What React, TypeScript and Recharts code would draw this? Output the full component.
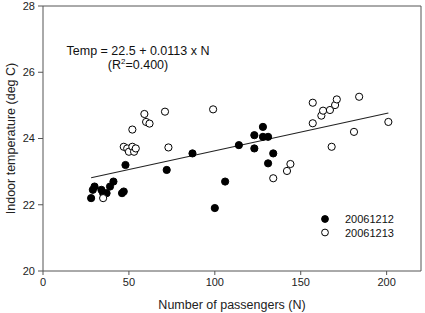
import React from "react";
import {
  ScatterChart,
  Scatter,
  XAxis,
  YAxis,
  ReferenceLine,
  Legend,
} from "recharts";

// passengers (N) and indoor temperature (deg C) per measurement day
const day1N = [28, 29, 30, 34, 35, 37, 39, 41, 46, 47, 48, 72, 87, 100, 106, 114, 123, 123, 128, 128, 131, 131, 134];
const day1T = [22.2, 22.45, 22.55, 22.45, 22.35, 22.35, 22.55, 22.7, 22.35, 22.4, 23.2, 23.05, 23.55, 21.9, 22.7, 23.8, 24.1, 23.7, 24.35, 24.05, 24.05, 23.25, 23.55];

const day2N = [35, 47, 49, 50, 52, 52, 53, 54, 59, 60, 62, 71, 73, 99, 134, 142, 144, 157, 157, 162, 163, 167, 168, 170, 171, 181, 184, 201];
const day2T = [22.2, 23.75, 23.7, 23.6, 23.75, 24.27, 23.6, 23.7, 24.74, 24.5, 24.45, 24.81, 23.73, 24.88, 22.8, 23.02, 23.23, 25.08, 24.46, 24.69, 24.84, 24.86, 23.75, 25.01, 25.18, 24.2, 25.26, 24.5];

const seriesNames = ["20061212", "20061213"];

// linear fit Temp = a + b * N
const INTERCEPT = 22.5;
const SLOPE = 0.0113;
const R2 = "0.400";

const X_MAX = 220;
const Y_MIN = 20;
const Y_MAX = 28;
const xTicks = [0, 50, 100, 150, 200];
const yTicks = [20, 22, 24, 26, 28];

const FONT = "'Liberation Sans', Arial, sans-serif";
const AXIS = "#555";

const day1 = day1N.map((n, i) => ({ n, t: day1T[i] }));
const day2 = day2N.map((n, i) => ({ n, t: day2T[i] }));

const allN = [...day1N, ...day2N];
const nMin = Math.min(...allN);
const nMax = Math.max(...allN);
const fitLine = [
  { x: nMin, y: INTERCEPT + SLOPE * nMin },
  { x: nMax, y: INTERCEPT + SLOPE * nMax },
];

const Dot = ({ cx, cy, filled }: { cx?: number; cy?: number; filled: boolean }) => (
  <circle
    cx={cx}
    cy={cy}
    r={3.6}
    fill={filled ? "#000" : "#fff"}
    stroke="#000"
    strokeWidth={1}
  />
);

const LegendBox = () => (
  <svg width={100} height={30}>
    {seriesNames.map((name, i) => (
      <g key={name} transform={`translate(0, ${i * 13.5})`}>
        <circle cx={7} cy={8} r={3.4} fill={i === 0 ? "#000" : "#fff"} stroke="#000" />
        <text x={27} y={12} fontSize={11} fill="#111" fontFamily={FONT}>
          {name}
        </text>
      </g>
    ))}
  </svg>
);

export default function App() {
  return (
    <div
      style={{
        position: "absolute",
        left: 0,
        top: 0,
        width: 425,
        height: 313,
        background: "#fff",
        fontFamily: FONT,
        overflow: "hidden",
      }}
    >
      <ScatterChart
        width={425}
        height={313}
        margin={{ top: 6, right: 4, bottom: 0, left: 0 }}
      >
        <XAxis
          type="number"
          dataKey="n"
          domain={[0, X_MAX]}
          ticks={xTicks}
          allowDataOverflow
          height={42}
          tickSize={4}
          tickMargin={3}
          stroke={AXIS}
          tick={{ fontSize: 11, fill: "#222", fontFamily: FONT }}
          label={{
            value: "Number of passengers (N)",
            position: "center",
            dy: 13,
            fontSize: 12.5,
            fill: "#222",
            fontFamily: FONT,
          }}
        />
        <YAxis
          type="number"
          dataKey="t"
          domain={[Y_MIN, Y_MAX]}
          ticks={yTicks}
          allowDataOverflow
          width={43}
          tickSize={5}
          tickMargin={3}
          stroke={AXIS}
          tick={{ fontSize: 11, fill: "#222", fontFamily: FONT }}
          label={{
            value: "Indoor temperature (deg C)",
            angle: -90,
            position: "center",
            dx: -11,
            fontSize: 12.5,
            fill: "#222",
            fontFamily: FONT,
          }}
        />
        {/* frame: top and right edges of the plot */}
        <ReferenceLine y={Y_MAX} stroke={AXIS} strokeWidth={1} />
        <ReferenceLine x={X_MAX} stroke={AXIS} strokeWidth={1} />
        <ReferenceLine segment={fitLine} stroke="#222" strokeWidth={1.1} />
        <Scatter
          name={seriesNames[0]}
          data={day1}
          isAnimationActive={false}
          shape={(p: any) => <Dot cx={p.cx} cy={p.cy} filled />}
        />
        <Scatter
          name={seriesNames[1]}
          data={day2}
          isAnimationActive={false}
          shape={(p: any) => <Dot cx={p.cx} cy={p.cy} filled={false} />}
        />
        <Legend
          layout="vertical"
          align="center"
          verticalAlign="middle"
          content={() => <LegendBox />}
          wrapperStyle={{ left: 318, top: 211, width: 100, height: 30 }}
        />
      </ScatterChart>
      <div
        style={{
          position: "absolute",
          left: 38,
          top: 44,
          width: 200,
          textAlign: "center",
          fontSize: 12.5,
          lineHeight: "14px",
          color: "#111",
        }}
      >
        <div>{`Temp = ${INTERCEPT} + ${SLOPE} x N`}</div>
        <div>
          (R<sup style={{ fontSize: 8, lineHeight: 0 }}>2</sup>={R2})
        </div>
      </div>
    </div>
  );
}
